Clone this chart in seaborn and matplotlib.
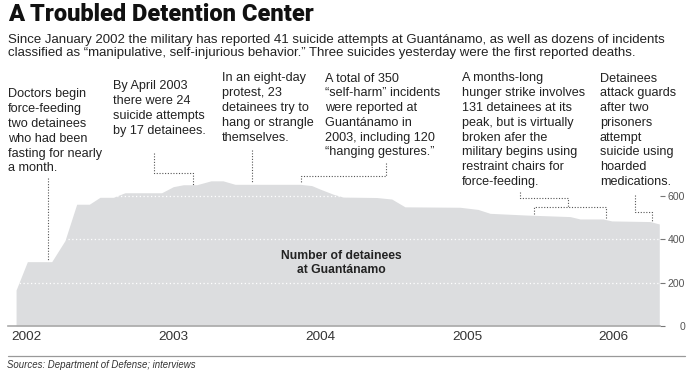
import matplotlib
matplotlib.use('Agg')
import matplotlib.pyplot as plt
import matplotlib.transforms as mtransforms
import seaborn as sns

# Detainee population at Guantanamo, decimal years
years = [2002.055, 2002.132, 2002.298, 2002.388, 2002.468, 2002.554, 2002.627,
         2002.718, 2002.797, 2003.047, 2003.126, 2003.195, 2003.286, 2003.383,
         2003.465, 2003.547, 2003.990, 2004.070, 2004.126, 2004.217, 2004.285,
         2004.512, 2004.615, 2004.705, 2005.080, 2005.203, 2005.285, 2005.535,
         2005.830, 2005.898, 2006.055, 2006.114, 2006.375, 2006.438]
detainees = [166, 297, 297, 394, 562, 562, 594, 594, 615, 615, 643, 652, 652,
             670, 670, 654, 654, 648, 632, 608, 595, 593, 586, 550, 548, 538,
             520, 512, 505, 494, 494, 485, 482, 471]

year_ticks = [2002, 2003, 2004, 2005, 2006]
year_labels = ['2002', '2003', '2004', '2005', '2006']
value_ticks = [0, 200, 400, 600]
grid_values = [200, 400, 600]

title = 'A Troubled Detention Center'
subtitle = ('Since January 2002 the military has reported 41 suicide attempts at Guantánamo, '
            'as well as dozens of incidents\n'
            'classified as \u201cmanipulative, self-injurious behavior.\u201d Three suicides '
            'yesterday were the first reported deaths.')

notes = [
    'Doctors begin\nforce-feeding\ntwo detainees\nwho had been\nfasting for nearly\na month.',
    'By April 2003\nthere were 24\nsuicide attempts\nby 17 detainees.',
    'In an eight-day\nprotest, 23\ndetainees try to\nhang or strangle\nthemselves.',
    'A total of 350\n\u201cself-harm\u201d incidents\nwere reported at\nGuantánamo in\n'
    '2003, including 120\n\u201changing gestures.\u201d',
    'A months-long\nhunger strike involves\n131 detainees at its\npeak, but is virtually\n'
    'broken afer the\nmilitary begins using\nrestraint chairs for\nforce-feeding.',
    'Detainees\nattack guards\nafter two\nprisoners\nattempt\nsuicide using\nhoarded\nmedications.',
]
# note anchor (left, top) in picture pixels
note_pos = [(8, 88.5), (113, 80.5), (222, 72.5), (325, 72.5), (462, 72.5), (600, 72.5)]

# dotted leader lines, picture pixels
leaders = [
    [(48, 178), (48, 261)],
    [(154, 153), (154, 173), (193, 173), (193, 185)],
    [(252, 150), (252, 182)],
    [(386, 163), (386, 176), (301, 176), (301, 182)],
    [(520, 192), (520, 198), (568, 198), (568, 207)],
    [(534, 214), (534, 207), (606, 207), (606, 218)],
    [(635, 195), (635, 212), (652, 212), (652, 222)],
]

W, H = 696, 377
area_color = '#dcdddf'
text_color = '#222222'

sns.set_style('white')
plt.rcParams['font.family'] = ['Liberation Sans', 'DejaVu Sans']

fig = plt.figure(figsize=(W / 100, H / 100), dpi=100)
px = mtransforms.Affine2D().scale(1 / W, -1 / H).translate(0, 1) + fig.transFigure

ax = fig.add_axes([8 / W, (H - 326) / H, (660 - 8) / W, (326 - 170) / H])
sns.lineplot(x=years, y=detainees, ax=ax, color=area_color, linewidth=0)
ax.fill_between(years, detainees, color=area_color, linewidth=0, zorder=1)
for v in grid_values:
    ax.axhline(v, color='white', linestyle=(0, (1, 2)), linewidth=0.9, zorder=3)

ax.set_xlim(2002, 2002 + 652 / 146.75)
ax.set_ylim(0, 720)
for s in ['top', 'left', 'right']:
    ax.spines[s].set_visible(False)
ax.spines['bottom'].set_color('#aaaaaa')
ax.spines['bottom'].set_linewidth(1.2)

ax.set_xticks(year_ticks)
ax.set_xticklabels([])
ax.tick_params(axis='x', length=10.8, width=0.9, color='#222222', direction='out')
for yr, lbl in zip(year_ticks, year_labels):
    ax.annotate(lbl, xy=(yr, 0), xycoords='data', xytext=(2.6, -8.2),
                textcoords='offset points', ha='left', va='center',
                fontsize=9.7, color='#333333')

ax.yaxis.tick_right()
ax.set_yticks(value_ticks)
ax.set_yticklabels([str(v) for v in value_ticks])
ax.tick_params(axis='y', length=3.6, width=0.8, color='#777777', pad=14.4,
               labelsize=7.6, labelcolor='#555555')
for lab in ax.get_yticklabels():
    lab.set_ha('right')
ax.set_xlabel('')
ax.set_ylabel('')

ax.text(0.511, 0.405, 'Number of detainees\nat Guantánamo', transform=ax.transAxes,
        ha='center', va='center', fontsize=8.7, fontweight='bold',
        color=text_color, linespacing=1.25)

# title block
fig.text(8, 21, title, transform=px, ha='left', va='baseline',
         fontsize=17, fontweight='black', family=['Roboto', 'DejaVu Sans'], color='#111111')
fig.text(8, 34, subtitle, transform=px, ha='left', va='top',
         fontsize=9.5, color=text_color, linespacing=1.08)

for txt, (x0, y0) in zip(notes, note_pos):
    fig.text(x0, y0, txt, transform=px, ha='left', va='top',
             fontsize=9.1, color=text_color, linespacing=1.31)

for pts in leaders:
    xs = [p[0] for p in pts]
    ys = [p[1] for p in pts]
    fig.add_artist(plt.Line2D(xs, ys, transform=px, color='#555555',
                              linestyle=(0, (1, 1.5)), linewidth=0.8))

# footer
fig.add_artist(plt.Line2D([8, 685], [356, 356], transform=px, color='#999999', linewidth=0.9))
fig.text(7, 365, 'Sources: Department of Defense; interviews', transform=px,
         ha='left', va='center', fontsize=6.9, style='italic', color='#333333')

fig.savefig('out.png', dpi=100)
